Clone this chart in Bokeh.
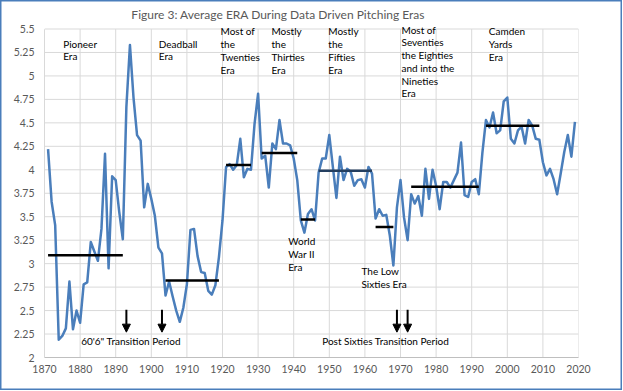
from bokeh.plotting import figure
from bokeh.models import Label, Arrow, NormalHead, FixedTicker
from bokeh.embed import file_html
from bokeh.resources import INLINE

# ---------------- data ----------------
years = list(range(1871, 2020))
avg_era = [
    4.22, 3.66, 3.41, 2.19, 2.23, 2.31, 2.81, 2.30, 2.50, 2.37,   # 1871-1880
    2.78, 2.80, 3.23, 3.13, 3.03, 3.37, 4.17, 2.95, 3.93, 3.89,   # 1881-1890
    3.55, 3.26, 4.67, 5.33, 4.77, 4.37, 4.31, 3.60, 3.85, 3.69,   # 1891-1900
    3.51, 3.17, 3.11, 2.66, 2.81, 2.65, 2.50, 2.38, 2.53, 2.78,   # 1901-1910
    3.36, 3.37, 3.08, 2.91, 2.90, 2.71, 2.67, 2.77, 3.07, 3.46,   # 1911-1920
    4.03, 4.06, 4.00, 4.05, 4.33, 3.92, 4.01, 4.00, 4.49, 4.81,   # 1921-1930
    4.12, 4.15, 3.81, 4.28, 4.22, 4.53, 4.28, 4.28, 4.26, 4.12,   # 1931-1940
    3.89, 3.46, 3.33, 3.53, 3.58, 3.46, 3.97, 4.12, 4.12, 4.37,   # 1941-1950
    4.03, 3.70, 4.14, 3.89, 4.01, 3.98, 3.83, 3.89, 3.90, 3.81,   # 1951-1960
    4.03, 3.96, 3.48, 3.58, 3.51, 3.52, 3.30, 2.98, 3.60, 3.89,   # 1961-1970
    3.49, 3.25, 3.74, 3.64, 3.72, 3.51, 4.01, 3.69, 4.00, 3.83,   # 1971-1980
    3.58, 3.87, 3.87, 3.81, 3.89, 3.97, 4.29, 3.73, 3.71, 3.87,   # 1981-1990
    3.90, 3.74, 4.18, 4.53, 4.45, 4.61, 4.39, 4.42, 4.73, 4.77,   # 1991-2000
    4.33, 4.28, 4.42, 4.46, 4.28, 4.53, 4.47, 4.33, 4.32, 4.08,   # 2001-2010
    3.94, 4.01, 3.90, 3.74, 3.96, 4.19, 4.37, 4.14, 4.51,         # 2011-2019
]

era_start = [1871, 1904, 1921, 1931, 1942, 1947, 1963, 1973, 1994]
era_end = [1892, 1919, 1928, 1941, 1946, 1962, 1968, 1992, 2009]
era_mean = [3.09, 2.82, 4.05, 4.18, 3.47, 3.99, 3.39, 3.82, 4.47]

transition_years = [1893, 1903, 1969, 1972]

x_ticks = list(range(1870, 2021, 10))
y_ticks = [2.0, 2.25, 2.5, 2.75, 3.0, 3.25, 3.5, 3.75, 4.0, 4.25, 4.5, 4.75, 5.0, 5.25, 5.5]
y_tick_labels = ["2", "2.25", "2.5", "2.75", "3", "3.25", "3.5", "3.75",
                 "4", "4.25", "4.5", "4.75", "5", "5.25", "5.5"]

title_text = "Figure 3: Average ERA During Data Driven Pitching Eras"
era_names = [
    ["Pioneer", "Era"],
    ["Deadball", "Era"],
    ["Most of", "the", "Twenties", "Era"],
    ["Mostly", "the", "Thirties", "Era"],
    ["Mostly", "the", "Fifties", "Era"],
    ["Most of", "Seventies", "the Eighties", "and into the", "Nineties", "Era"],
    ["Camden", "Yards", "Era"],
    ["World", "War II", "Era"],
    ["The Low", "Sixties Era"],
    ["60'6\" Transition Period"],
    ["Post Sixties Transition Period"],
]

# ---------------- styling ----------------
FONT = "Lato"
GRAY_TXT = "#595959"
GRID = "#D9D9D9"
SERIES = "#4A7EBB"

X0, X1 = x_ticks[0], x_ticks[-1]
Y0, Y1 = y_ticks[0], y_ticks[-1]
# frame spans the full canvas height above the x-axis so texts above 5.5 are not clipped
Y_TOP = Y0 + (Y1 - Y0) * 357.0 / 328.5

p = figure(width=622, height=390, x_range=(X0, X1), y_range=(Y0, Y_TOP),
           output_backend="svg", toolbar_location=None,
           min_border_left=44, min_border_right=44, min_border_top=0, min_border_bottom=33)
p.background_fill_alpha = 0
p.border_fill_alpha = 0
p.outline_line_color = None
p.styles = {"background-color": "white", "box-shadow": "inset 0 0 0 1.5px #4A7EBB"}
p.xgrid.visible = False
p.ygrid.visible = False

# gridlines (drawn from tick lists)
p.segment(x0=x_ticks, y0=[Y0] * len(x_ticks), x1=x_ticks, y1=[Y1] * len(x_ticks),
          line_color=GRID, line_width=1)
p.segment(x0=[X0] * len(y_ticks), y0=y_ticks, x1=[X1] * len(y_ticks), y1=y_ticks,
          line_color=GRID, line_width=1)

p.xaxis.ticker = FixedTicker(ticks=x_ticks)
p.yaxis.ticker = FixedTicker(ticks=y_ticks)
p.yaxis.bounds = (Y0, Y1)
p.yaxis.major_label_overrides = {t: l for t, l in zip(y_ticks, y_tick_labels)}
for ax in (p.xaxis, p.yaxis):
    ax.major_tick_out = 0
    ax.major_tick_in = 0
    ax.minor_tick_out = 0
    ax.minor_tick_in = 0
    ax.major_label_text_font = FONT
    ax.major_label_text_font_size = "10.5px"
    ax.major_label_text_color = GRAY_TXT
p.xaxis.axis_line_color = "#BFBFBF"
p.yaxis.axis_line_color = GRID
p.xaxis.major_label_standoff = 7
p.yaxis.major_label_standoff = 10

# series
p.line(years, avg_era, line_width=2.5, color=SERIES, line_join="round")

# era average lines
era_colors = ["black"] * len(era_start)
era_colors[5] = "#243F60"
p.segment(x0=era_start, y0=era_mean, x1=era_end, y1=era_mean,
          line_color=era_colors, line_width=2.5)

# transition arrows
for yr in transition_years:
    p.add_layout(Arrow(end=NormalHead(size=8, fill_color="black", line_color="black"),
                       x_start=yr, y_start=2.508, x_end=yr, y_end=2.27,
                       line_color="black", line_width=2))

# title
p.add_layout(Label(x=1894.4, y=5.6535, text=title_text, text_font=FONT,
                   text_font_size="12px", text_color=GRAY_TXT, text_baseline="middle"))

# era labels (left x, first line y)
label_pos = [
    (1875.25, 5.3424), (1902.1, 5.3424), (1919.44, 5.4734), (1933.76, 5.4734),
    (1949.72, 5.4734), (1970.28, 5.4915), (1994.8, 5.4734), (1938.46, 3.2391),
    (1959.04, 2.9195), (1880.3, 2.1737), (1948.0, 2.1737),
]
step = 12.7 / 93.857
for lines, (lx, ly) in zip(era_names, label_pos):
    for i, t in enumerate(lines):
        p.add_layout(Label(x=lx, y=ly - i * step, text=t, text_font=FONT,
                           text_font_size="10px", text_color="black",
                           text_baseline="middle", text_align="left"))

open("out.html", "w").write(file_html(p, INLINE))
